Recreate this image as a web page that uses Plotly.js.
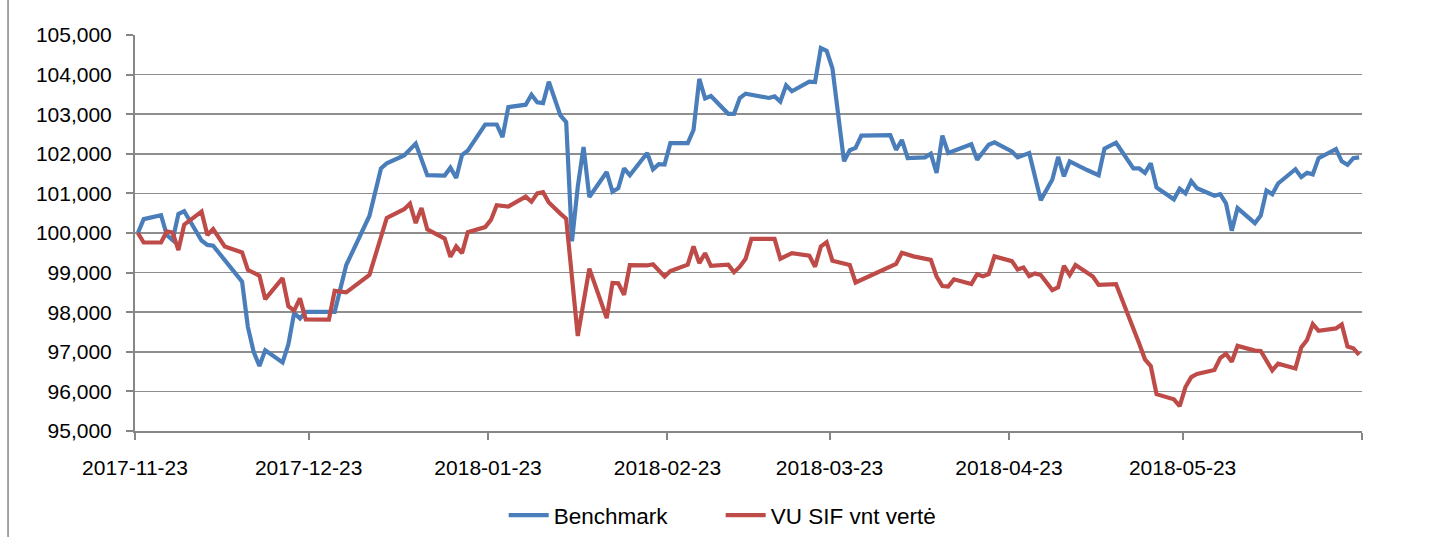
<!DOCTYPE html>
<html><head><meta charset="utf-8">
<script src="https://cdn.plot.ly/plotly-3.0.1.min.js"></script>
<style>html,body{margin:0;padding:0;background:#fff}#chart{width:1437px;height:537px}</style>
</head><body><div id="chart"></div>
<script>
const seriesNames = ['Benchmark', 'VU SIF vnt vertė'];
const tickLabels = ['2017-11-23','2017-12-23','2018-01-23','2018-02-23','2018-03-23','2018-04-23','2018-05-23'];
const axisStart = '2017-11-23';
const axisEnd = '2018-06-23';

const benchmarkDates = ['2017-11-23','2017-11-24','2017-11-27','2017-11-28','2017-11-29','2017-11-30','2017-12-01','2017-12-04','2017-12-05','2017-12-06','2017-12-11','2017-12-12','2017-12-13','2017-12-14','2017-12-15','2017-12-18','2017-12-19','2017-12-20','2017-12-21','2017-12-22','2017-12-27','2017-12-29','2018-01-02','2018-01-04','2018-01-05','2018-01-08','2018-01-10','2018-01-12','2018-01-15','2018-01-16','2018-01-17','2018-01-18','2018-01-19','2018-01-22','2018-01-24','2018-01-25','2018-01-26','2018-01-29','2018-01-30','2018-01-31','2018-02-01','2018-02-02','2018-02-04','2018-02-05','2018-02-06','2018-02-07','2018-02-08','2018-02-09','2018-02-12','2018-02-13','2018-02-14','2018-02-15','2018-02-16','2018-02-19','2018-02-20','2018-02-21','2018-02-22','2018-02-23','2018-02-26','2018-02-27','2018-02-28','2018-03-01','2018-03-02','2018-03-05','2018-03-06','2018-03-07','2018-03-08','2018-03-12','2018-03-13','2018-03-14','2018-03-15','2018-03-16','2018-03-19','2018-03-20','2018-03-21','2018-03-22','2018-03-23','2018-03-25','2018-03-26','2018-03-27','2018-03-28','2018-04-02','2018-04-03','2018-04-04','2018-04-05','2018-04-08','2018-04-09','2018-04-10','2018-04-11','2018-04-12','2018-04-16','2018-04-17','2018-04-19','2018-04-20','2018-04-23','2018-04-24','2018-04-26','2018-04-28','2018-04-30','2018-05-01','2018-05-02','2018-05-03','2018-05-06','2018-05-08','2018-05-09','2018-05-11','2018-05-14','2018-05-15','2018-05-16','2018-05-17','2018-05-18','2018-05-21','2018-05-22','2018-05-23','2018-05-24','2018-05-25','2018-05-28','2018-05-29','2018-05-30','2018-05-31','2018-06-01','2018-06-04','2018-06-05','2018-06-06','2018-06-07','2018-06-08','2018-06-11','2018-06-12','2018-06-13','2018-06-14','2018-06-15','2018-06-18','2018-06-19','2018-06-20','2018-06-21','2018-06-22'];
const benchmarkValues = [100000,100350,100450,99950,99820,100480,100550,99810,99700,99680,98770,97630,97000,96640,97040,96730,97190,97980,97840,98010,98010,99190,100430,101630,101760,101960,102260,101460,101450,101650,101390,101970,102080,102740,102740,102420,103180,103240,103490,103300,103280,103820,102970,102800,99790,101170,102170,100910,101540,101040,101130,101630,101460,102020,101610,101740,101730,102270,102270,102600,103890,103400,103460,103010,103010,103410,103520,103410,103450,103320,103730,103580,103820,103810,104670,104600,104160,101810,102090,102150,102460,102470,102100,102350,101890,101910,102000,101520,102460,102020,102240,101850,102230,102290,102060,101910,102020,100830,101350,101920,101430,101810,101590,101460,102130,102280,101630,101630,101520,101760,101150,100850,101120,101000,101310,101130,100940,100980,100750,100060,100630,100250,100440,101070,100980,101250,101610,101410,101520,101480,101890,102120,101810,101720,101890,101910];

const fundDates = ['2017-11-23','2017-11-24','2017-11-27','2017-11-28','2017-11-29','2017-11-30','2017-12-01','2017-12-04','2017-12-05','2017-12-06','2017-12-08','2017-12-11','2017-12-12','2017-12-14','2017-12-15','2017-12-18','2017-12-19','2017-12-20','2017-12-21','2017-12-22','2017-12-26','2017-12-27','2017-12-29','2018-01-02','2018-01-05','2018-01-08','2018-01-09','2018-01-10','2018-01-11','2018-01-12','2018-01-15','2018-01-16','2018-01-17','2018-01-18','2018-01-19','2018-01-22','2018-01-23','2018-01-24','2018-01-26','2018-01-27','2018-01-29','2018-01-30','2018-01-31','2018-02-01','2018-02-02','2018-02-04','2018-02-05','2018-02-07','2018-02-09','2018-02-12','2018-02-13','2018-02-14','2018-02-15','2018-02-16','2018-02-19','2018-02-20','2018-02-22','2018-02-23','2018-02-26','2018-02-27','2018-02-28','2018-03-01','2018-03-02','2018-03-05','2018-03-06','2018-03-07','2018-03-08','2018-03-09','2018-03-13','2018-03-14','2018-03-16','2018-03-19','2018-03-20','2018-03-21','2018-03-22','2018-03-23','2018-03-25','2018-03-26','2018-03-27','2018-04-03','2018-04-04','2018-04-06','2018-04-09','2018-04-10','2018-04-11','2018-04-12','2018-04-13','2018-04-16','2018-04-17','2018-04-18','2018-04-19','2018-04-20','2018-04-23','2018-04-24','2018-04-25','2018-04-26','2018-04-27','2018-04-28','2018-04-30','2018-05-01','2018-05-02','2018-05-03','2018-05-04','2018-05-07','2018-05-08','2018-05-11','2018-05-15','2018-05-16','2018-05-17','2018-05-18','2018-05-21','2018-05-22','2018-05-23','2018-05-24','2018-05-25','2018-05-28','2018-05-29','2018-05-30','2018-05-31','2018-06-01','2018-06-04','2018-06-05','2018-06-07','2018-06-08','2018-06-11','2018-06-12','2018-06-13','2018-06-14','2018-06-15','2018-06-18','2018-06-19','2018-06-20','2018-06-21','2018-06-22'];
const fundValues = [100000,99760,99760,100040,100010,99570,100210,100540,99950,100100,99660,99510,99070,98920,98330,98860,98150,98040,98350,97820,97810,98540,98500,98940,100380,100600,100740,100250,100630,100090,99860,99400,99660,99490,100020,100150,100330,100700,100670,100750,100920,100790,101000,101030,100770,100490,100360,97400,99100,97850,98740,98730,98440,99190,99180,99210,98900,99040,99200,99660,99240,99490,99170,99200,99010,99150,99350,99850,99850,99350,99490,99430,99150,99660,99770,99300,99230,99190,98750,99220,99500,99410,99320,98900,98660,98650,98830,98710,98960,98910,98960,99410,99290,99080,99130,98910,98980,98940,98560,98630,99170,98940,99190,98900,98690,98710,97210,96810,96640,95930,95800,95630,96110,96360,96440,96540,96840,96950,96750,97150,97030,97020,96530,96700,96580,97110,97300,97700,97530,97590,97690,97130,97090,96920];

// Excel "between tick marks" date axis: each day occupies a slot, ticks sit on slot edges
function slotEdge(s) {
  const t = Date.parse(s + 'T00:00:00Z') - 12 * 3600e3;
  return new Date(t).toISOString().slice(0, 19).replace('T', ' ');
}
const tickVals = tickLabels.map(slotEdge).concat([slotEdge(axisEnd)]);
const tickText = tickLabels.concat(['']);

const FONT = {family: 'Liberation Sans, Arial, sans-serif', size: 21, color: '#000'};
const LEGEND_FONT = {family: 'Liberation Sans, Arial, sans-serif', size: 22.5, color: '#000'};

const traces = [
  {x: benchmarkDates, y: benchmarkValues, name: seriesNames[0], type: 'scatter', mode: 'lines',
   line: {color: '#4A7EBB', width: 4.2}},
  {x: fundDates, y: fundValues, name: seriesNames[1], type: 'scatter', mode: 'lines',
   line: {color: '#BE4B48', width: 4.2}}
];

const layout = {
  width: 1437, height: 537,
  margin: {l: 135, r: 74.5, t: 35, b: 106, pad: 0},
  paper_bgcolor: '#fff', plot_bgcolor: '#fff',
  font: FONT,
  showlegend: true,
  legend: {orientation: 'h', xref: 'container', yref: 'container', x: 0.3505, xanchor: 'left',
           y: 0.04, yanchor: 'middle', font: LEGEND_FONT, itemwidth: 40, entrywidth: 162,
           traceorder: 'normal'},
  xaxis: {
    type: 'date', range: [slotEdge(axisStart), slotEdge(axisEnd)],
    tickmode: 'array', tickvals: tickVals, ticktext: tickText,
    showgrid: false, zeroline: false, showline: true, linecolor: '#868686', linewidth: 2,
    ticks: 'outside', ticklen: 7, tickwidth: 2, tickcolor: '#868686',
    ticklabelstandoff: 10, tickfont: FONT, fixedrange: true
  },
  yaxis: {
    range: [95000, 105000], dtick: 1000, tick0: 95000, tickformat: ',d',
    showgrid: true, gridcolor: '#8E8E8E', gridwidth: 1.5, zeroline: false,
    showline: true, linecolor: '#868686', linewidth: 2,
    ticks: 'outside', ticklen: 7, tickwidth: 2, tickcolor: '#868686',
    ticklabelstandoff: 10, tickfont: FONT, fixedrange: true
  },
  shapes: [
    {type: 'line', xref: 'paper', yref: 'paper', x0: (8 - 135) / 1227.5, x1: (8 - 135) / 1227.5,
     y0: (431 - 540) / 396, y1: (431 + 3) / 396, line: {color: '#868686', width: 1.5}}
  ]
};

Plotly.newPlot('chart', traces, layout, {displayModeBar: false, staticPlot: true});
</script>
</body></html>
